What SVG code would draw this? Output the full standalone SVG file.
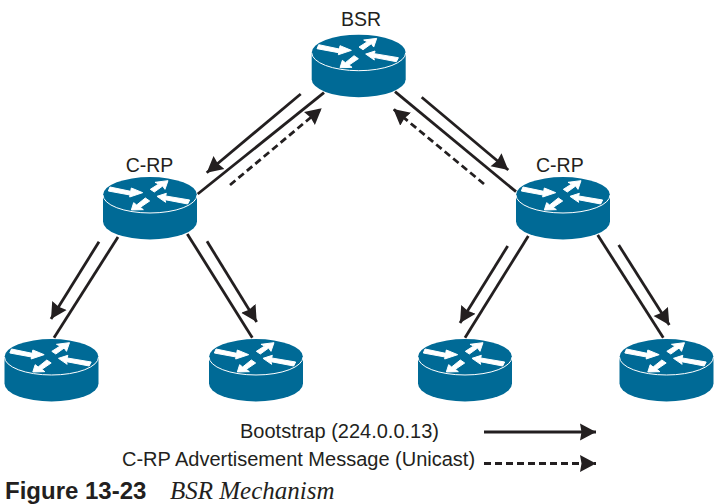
<svg xmlns="http://www.w3.org/2000/svg" width="720" height="504" viewBox="0 0 720 504">
<style>
text{font-family:"Liberation Sans",Arial,sans-serif;fill:#231f20}
.lbl{font-size:19.500px}
.leg{font-size:20px}
.s{stroke:#231f20;stroke-width:2.800;fill:none}
.a{marker-end:url(#head)}
.d{stroke-dasharray:7 4}
.body{fill:#006a96}
.rim{fill:none;stroke:#fff;stroke-width:1}
.ga{fill:#fff;stroke:#fff;stroke-width:3;stroke-linejoin:miter}
</style>
<defs>
<marker id="head" markerUnits="userSpaceOnUse" markerWidth="20" markerHeight="20" refX="16" refY="9" orient="auto">
<path d="M0 0.500L16 9L0 17.500L1.500 9Z" fill="#231f20"/>
</marker>
<g id="router">
<path class="body" d="M-47 0A47 18 0 0 1 47 0V26.500A47 18 0 0 1 -47 26.500Z"/>
<path class="rim" d="M-47 0A47 18 0 0 0 47 0"/>
<g transform="scale(.3333) translate(-177 -67)">
<polygon class="ga" points="57,43 119,56 121,46 155,60 116,73 117,67 52,55"/>
<polygon class="ga" points="231,24 222,50 215,40 190,58 178,50 203,34 192,29"/>
<polygon class="ga" points="198,71 226,62 224,70 296,82 290,94 222,81 224,89"/>
<polygon class="ga" points="121,112 128,90 137,97 163,76 176,85 148,104 157,111"/>
</g>
</g>
</defs>
<g id="connectors">
<line class="s" x1="324" y1="92.700" x2="197.700" y2="194"/>
<line class="s a" x1="300.700" y1="94" x2="206.700" y2="172.700"/>
<line class="s d a" x1="230" y1="185" x2="321.700" y2="108.300"/>
<line class="s" x1="395" y1="91.700" x2="516" y2="191.700"/>
<line class="s a" x1="421.700" y1="97.300" x2="508.300" y2="170"/>
<line class="s d a" x1="484" y1="184" x2="393.300" y2="109"/>
<line class="s" x1="118" y1="237" x2="54" y2="337.700"/>
<line class="s a" x1="99" y1="241.700" x2="51" y2="319"/>
<line class="s" x1="187.300" y1="234" x2="252.300" y2="337.700"/>
<line class="s a" x1="207" y1="241.300" x2="256.700" y2="322"/>
<line class="s" x1="528.300" y1="236" x2="465" y2="337.700"/>
<line class="s a" x1="507.700" y1="246" x2="460" y2="323"/>
<line class="s" x1="597.700" y1="235" x2="663.300" y2="337.700"/>
<line class="s a" x1="618.700" y1="245" x2="669.300" y2="325"/>
</g>
<g id="bsr"><use href="#router" x="358.700" y="52.700"/><text class="lbl" x="361" y="25.700" text-anchor="middle">BSR</text></g>
<g id="crp-left"><use href="#router" x="150" y="195"/><text class="lbl" x="125.700" y="171.700">C-RP</text></g>
<g id="crp-right"><use href="#router" x="563" y="195"/><text class="lbl" x="536" y="171.700">C-RP</text></g>
<g id="router-1"><use href="#router" x="51.500" y="357"/></g>
<g id="router-2"><use href="#router" x="256" y="357"/></g>
<g id="router-3"><use href="#router" x="465" y="357"/></g>
<g id="router-4"><use href="#router" x="666.500" y="357"/></g>
<g id="legend">
<text class="leg" x="240" y="437.500">Bootstrap (224.0.0.13)</text>
<line class="s a" x1="484" y1="432" x2="596" y2="432"/>
<text class="leg" x="122" y="466">C-RP Advertisement Message (Unicast)</text>
<line class="s d a" x1="484" y1="463.500" x2="596" y2="463.500"/>
</g>
<g id="caption">
<text x="5" y="499" style="font-size:24px;font-weight:bold">Figure 13-23</text>
<text x="170" y="499" style="font-family:'Liberation Serif',serif;font-size:25px;font-style:italic">BSR Mechanism</text>
</g>
</svg>
